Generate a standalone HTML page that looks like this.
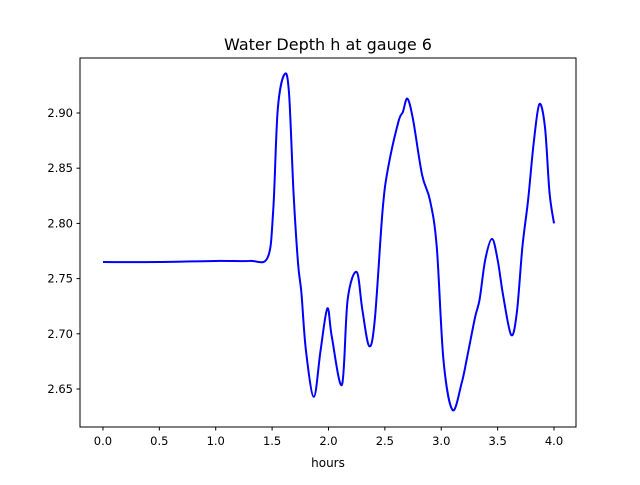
<!DOCTYPE html>
<html><head><meta charset="utf-8"><style>
body{margin:0;background:#fff;font-family:"Liberation Sans","DejaVu Sans",sans-serif}
</style></head><body>
<svg width="640" height="480" xmlns="http://www.w3.org/2000/svg" id="chart" font-family="DejaVu Sans, Liberation Sans, sans-serif">
<rect width="640" height="480" fill="#fff"/>
<text x="328" y="50" font-size="16" text-anchor="middle">Water Depth h at gauge 6</text>
<text x="328" y="467" font-size="12" text-anchor="middle">hours</text>
<g id="ticks"></g>
<path id="line" fill="none" stroke="#0000ff" stroke-width="2"/>
<rect x="80" y="58" width="496" height="369" fill="none" stroke="#000" stroke-width="1"/>
</svg>
<script>
const hours=[0,0.5,1.0,1.3,1.46,1.51,1.55,1.61,1.65,1.69,1.73,1.76,1.80,1.87,1.93,1.99,2.03,2.12,2.17,2.25,2.30,2.36,2.41,2.48,2.53,2.62,2.66,2.70,2.75,2.83,2.90,2.96,3.02,3.10,3.18,3.23,3.30,3.34,3.39,3.45,3.50,3.55,3.62,3.67,3.72,3.77,3.82,3.87,3.92,3.96,4.00];
const depth=[2.765,2.765,2.766,2.766,2.769,2.812,2.903,2.935,2.918,2.828,2.764,2.737,2.685,2.643,2.685,2.723,2.697,2.654,2.731,2.756,2.722,2.689,2.712,2.812,2.851,2.892,2.901,2.913,2.894,2.844,2.821,2.779,2.676,2.631,2.655,2.679,2.715,2.731,2.767,2.786,2.767,2.734,2.699,2.719,2.779,2.821,2.873,2.908,2.887,2.828,2.800];
const xTicks=[0,0.5,1.0,1.5,2.0,2.5,3.0,3.5,4.0];
const yTicks=[2.65,2.70,2.75,2.80,2.85,2.90];
const X0=80,X1=576,Y0=427,Y1=58,xmin=-0.2035,xmax=4.195,ymin=2.6156,ymax=2.9498;
const sx=v=>X0+(v-xmin)/(xmax-xmin)*(X1-X0);
const sy=v=>Y0-(v-ymin)/(ymax-ymin)*(Y0-Y1);
const NS='http://www.w3.org/2000/svg';
const g=document.getElementById('ticks');
function mk(t,a){const e=document.createElementNS(NS,t);for(const k in a)e.setAttribute(k,a[k]);g.appendChild(e);return e;}
xTicks.forEach(t=>{const x=sx(t);
const l=mk('line',{x1:x,x2:x,y1:427,y2:430.5,stroke:'#000'});


const tx=mk('text',{x:x,y:445,'font-size':11.5,'text-anchor':'middle'});tx.textContent=t.toFixed(1);

});
yTicks.forEach(t=>{const y=sy(t);
const l=mk('line',{x1:76.5,x2:80,y1:y,y2:y,stroke:'#000'});


const tx=mk('text',{x:73,y:y+4,'font-size':11.5,'text-anchor':'end'});tx.textContent=t.toFixed(2);

});
const P=hours.map((h,i)=>[sx(h),sy(depth[i])]);
let d='M'+P[0][0]+','+P[0][1];
for(let i=0;i<P.length-1;i++){const p0=P[Math.max(0,i-1)],p1=P[i],p2=P[i+1],p3=P[Math.min(P.length-1,i+2)];
const c1=[p1[0]+(p2[0]-p0[0])/6,p1[1]+(p2[1]-p0[1])/6],c2=[p2[0]-(p3[0]-p1[0])/6,p2[1]-(p3[1]-p1[1])/6];
d+=` C${c1[0]},${c1[1]} ${c2[0]},${c2[1]} ${p2[0]},${p2[1]}`;}
document.getElementById('line').setAttribute('d',d);
</script>
</body></html>
